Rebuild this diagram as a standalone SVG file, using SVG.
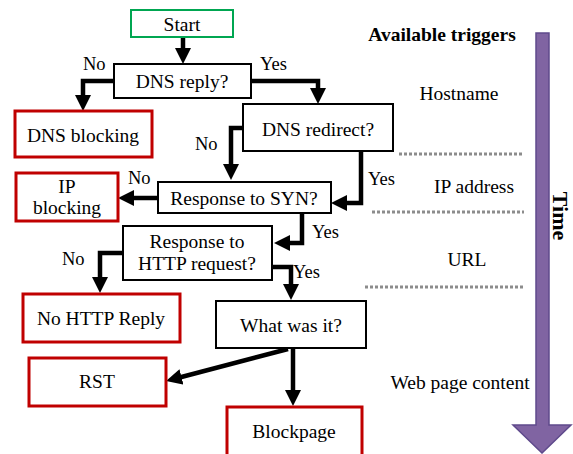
<svg xmlns="http://www.w3.org/2000/svg" width="573" height="454" viewBox="0 0 573 454" font-family="Liberation Serif">
<style>
.t{font-size:19.5px;text-anchor:middle}
.l{font-size:18.5px}
.r{font-size:19.5px;text-anchor:middle}
.b{font-weight:bold}
.box{fill:#fff;stroke:#000;stroke-width:2}
.red{fill:#fff;stroke:#C00000;stroke-width:3}
.grn{fill:#fff;stroke:#00A651;stroke-width:2}
.c{fill:none;stroke:#000;stroke-width:4.5;stroke-linejoin:miter;marker-end:url(#ah)}
.dot{stroke:#8c8c8c;stroke-width:3;stroke-dasharray:3 2}
</style>
<defs>
<marker id="ah" markerUnits="userSpaceOnUse" viewBox="0 0 16 16" markerWidth="16" markerHeight="16" refX="6" refY="8" orient="auto">
<path d="M0,0 L16,8 L0,16 z" fill="#000"/>
</marker>
</defs>
<rect width="573" height="454" fill="#fff"/>

<g id="connectors">
<path class="c" d="M183,37 V54"/>
<path class="c" d="M114,81 H83 V101"/>
<path class="c" d="M251,81 H318 V94"/>
<path class="c" d="M243,128 H231 V170"/>
<path class="c" d="M361,151 V203 H341"/>
<path class="c" d="M158,198 H128"/>
<path class="c" d="M302,213 V243 H284"/>
<path class="c" d="M123,253 H100 V283"/>
<path class="c" d="M272,267 H291 V290"/>
<path class="c" d="M288,349 L175.7,378.5"/>
<path class="c" d="M293,349 V396"/>
</g>

<g id="start"><rect class="grn" x="131" y="10" width="102" height="27"/><text class="t" x="182" y="31">Start</text></g>
<g id="dns-reply"><rect class="box" x="114" y="64" width="137" height="34"/><text class="t" x="182" y="88">DNS reply?</text></g>
<g id="dns-blocking"><rect class="red" x="15" y="111" width="137" height="46"/><text class="t" x="83" y="142">DNS blocking</text></g>
<g id="dns-redirect"><rect class="box" x="243" y="104" width="150" height="47"/><text class="t" x="318" y="136">DNS redirect?</text></g>
<g id="syn"><rect class="box" x="158" y="182" width="173" height="31"/><text class="t" x="244" y="205">Response to SYN?</text></g>
<g id="ip-blocking"><rect class="red" x="16" y="173" width="102" height="48"/><text class="t" x="67" y="193">IP</text><text class="t" x="67" y="214">blocking</text></g>
<g id="http"><rect class="box" x="123" y="226" width="149" height="54"/><text class="t" x="197" y="248">Response to</text><text class="t" x="197" y="270">HTTP request?</text></g>
<g id="no-http-reply"><rect class="red" x="23" y="294" width="157" height="48"/><text class="t" x="101" y="325">No HTTP Reply</text></g>
<g id="what"><rect class="box" x="216" y="301" width="150" height="47"/><text class="t" x="291" y="332">What was it?</text></g>
<g id="rst"><rect class="red" x="29" y="358" width="137" height="48"/><text class="t" x="97" y="388">RST</text></g>
<g id="blockpage"><rect class="red" x="227" y="407" width="135" height="56"/><text class="t" x="294" y="438">Blockpage</text></g>

<g id="labels">
<text class="l" x="83" y="70">No</text>
<text class="l" x="260" y="70">Yes</text>
<text class="l" x="195" y="150">No</text>
<text class="l" x="368" y="185">Yes</text>
<text class="l" x="128" y="184">No</text>
<text class="l" x="312" y="238">Yes</text>
<text class="l" x="62" y="265">No</text>
<text class="l" x="293" y="278">Yes</text>
</g>

<g id="triggers">
<text class="r b" x="442" y="41">Available triggers</text>
<text class="r" x="459" y="100">Hostname</text>
<line class="dot" x1="399" y1="154" x2="524" y2="154"/>
<text class="r" x="474" y="193">IP address</text>
<line class="dot" x1="372" y1="212" x2="524" y2="212"/>
<text class="r" x="467" y="266">URL</text>
<line class="dot" x1="365" y1="287" x2="524" y2="287"/>
<text class="r" x="460" y="389">Web page content</text>
</g>

<g id="time">
<path d="M536,33 H549 V425 H571 L542,453 L513,425 H536 Z" fill="#8064A2" stroke="#5F4A8C" stroke-width="1.5"/>
<text class="b" font-size="22" text-anchor="middle" transform="translate(553,216) rotate(90)">Time</text>
</g>
</svg>
